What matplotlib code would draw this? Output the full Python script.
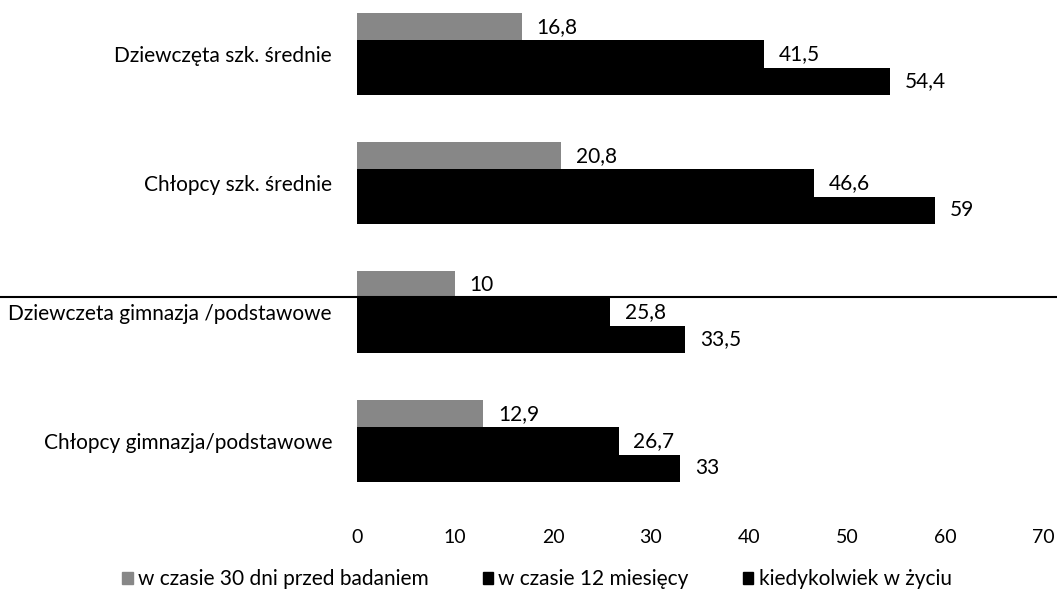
import numpy as np
import matplotlib.pyplot as plt
from matplotlib.lines import Line2D
from matplotlib.patches import Patch

plt.rcParams['font.family'] = ['Lato', 'DejaVu Sans']
plt.rcParams['font.size'] = 15

# data
groups = ["Dziewczęta szk. średnie", "Chłopcy szk. średnie",
          "Dziewczeta gimnazja /podstawowe", "Chłopcy gimnazja/podstawowe"]
last_30_days = [16.8, 20.8, 10, 12.9]
last_12_months = [41.5, 46.6, 25.8, 26.7]
ever = [54.4, 59, 33.5, 33]
series_names = ["w czasie 30 dni przed badaniem", "w czasie 12 miesięcy",
                "kiedykolwiek w życiu"]
xticks = [0, 10, 20, 30, 40, 50, 60, 70]


def fmt(v):
    return f"{v:g}".replace(".", ",")


fig = plt.figure(figsize=(10.57, 6), dpi=100)
ax = fig.add_axes([357 / 1057, 85 / 600, (1043 - 357) / 1057, 515 / 600])

y = np.arange(len(groups))
h = 0.212
colors = ["#878787", "#000000", "#000000"]
for k, vals in enumerate([last_30_days, last_12_months, ever]):
    pos = y + (k - 1) * h
    ax.barh(pos, vals, height=h, color=colors[k], edgecolor=colors[k], lw=0)
    for p, v in zip(pos, vals):
        ax.text(v + 1.5, p, fmt(v), va="center", ha="left", fontsize=15)

ax.set_xlim(0, 70)
ax.set_ylim(3.574, -0.42)
ax.set_yticks(y, groups)
ax.set_xticks(xticks, [str(t) for t in xticks])
ax.tick_params(axis="y", length=0, pad=18, labelsize=15)
ax.tick_params(axis="x", length=0, pad=10, labelsize=14)
for s in ax.spines.values():
    s.set_visible(False)

# stray line from the scanned page
fig.add_artist(Line2D([0, 1], [1 - 297 / 600, 1 - 297 / 600], color="black", lw=1.5))

handles = [Patch(color=c) for c in colors]
fig.legend(handles, series_names, loc="center", bbox_to_anchor=(0.508, 0.035),
           ncol=3, frameon=False, handlelength=0.5, handleheight=0.5,
           handletextpad=0.25, columnspacing=2.6, fontsize=15)

fig.savefig("out.png", dpi=100)
